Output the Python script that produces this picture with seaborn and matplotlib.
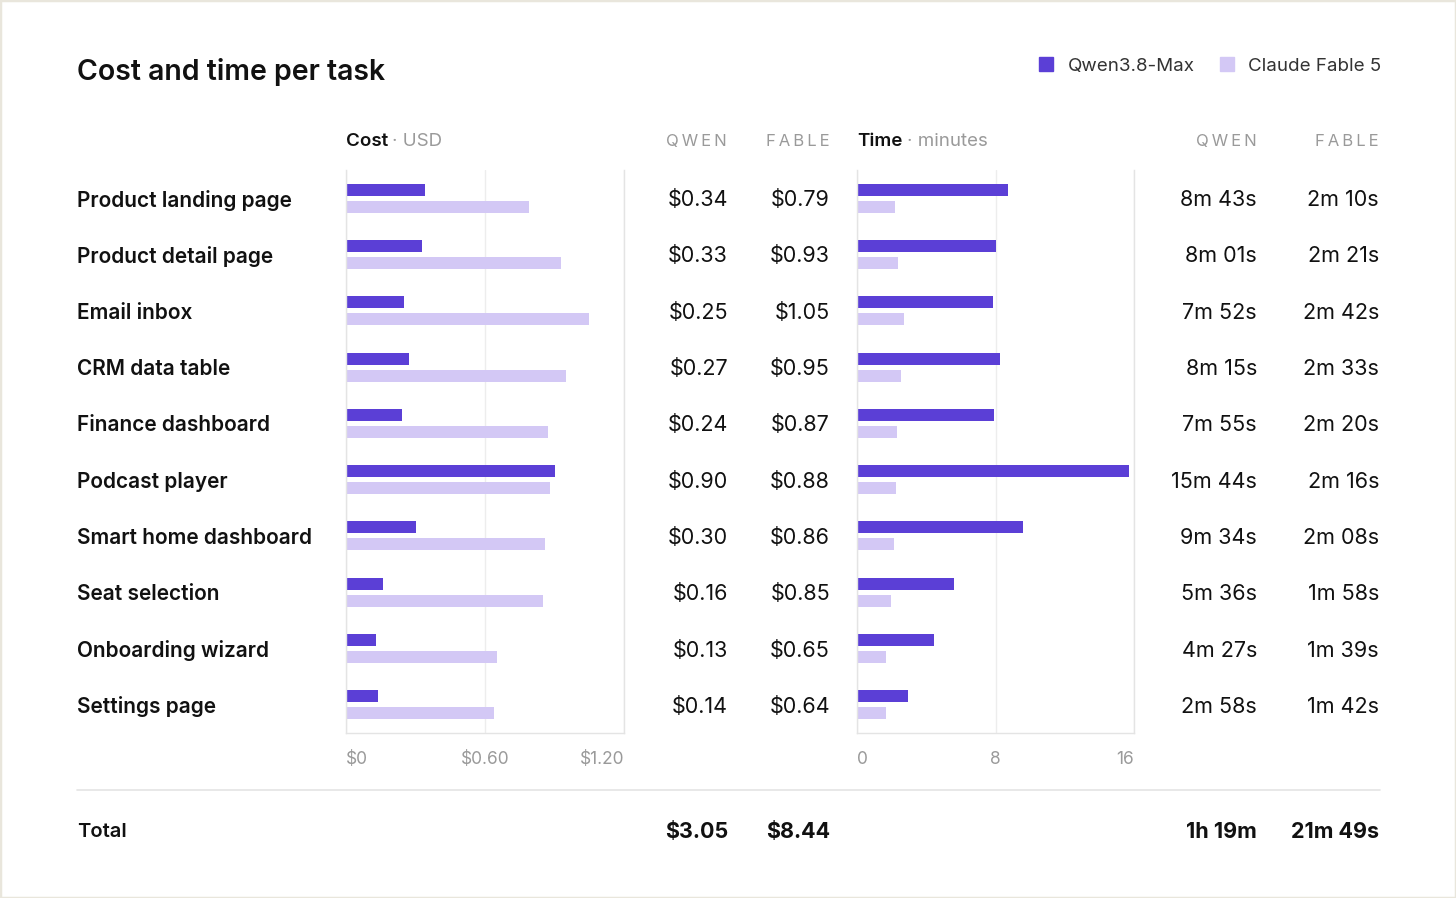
import pandas as pd
import seaborn as sns
import matplotlib.pyplot as plt
import matplotlib.transforms as mtransforms
from matplotlib.patches import Patch, Rectangle
from matplotlib.lines import Line2D

tasks = ["Product landing page", "Product detail page", "Email inbox", "CRM data table",
         "Finance dashboard", "Podcast player", "Smart home dashboard", "Seat selection",
         "Onboarding wizard", "Settings page"]
qwen_cost = [0.34, 0.33, 0.25, 0.27, 0.24, 0.90, 0.30, 0.16, 0.13, 0.14]
fable_cost = [0.79, 0.93, 1.05, 0.95, 0.87, 0.88, 0.86, 0.85, 0.65, 0.64]
qwen_time = ["8m 43s", "8m 01s", "7m 52s", "8m 15s", "7m 55s", "15m 44s", "9m 34s",
             "5m 36s", "4m 27s", "2m 58s"]
fable_time = ["2m 10s", "2m 21s", "2m 42s", "2m 33s", "2m 20s", "2m 16s", "2m 08s",
              "1m 58s", "1m 39s", "1m 42s"]
total_cost = ["$3.05", "$8.44"]
total_time = ["1h 19m", "21m 49s"]
models = ["Qwen3.8-Max", "Claude Fable 5"]
cost_ticks = [0, 0.6, 1.2]
cost_tick_labels = ["$0", "$0.60", "$1.20"]
time_ticks = [0, 8, 16]
time_tick_labels = ["0", "8", "16"]

QWEN = "#5b3fd6"
FABLE = "#d3c8f5"
INK = "#111111"
GREY = "#9a9a9a"
LINE = "#e4e4e4"


def to_minutes(s):
    m, sec = s.replace("s", "").split("m ")
    return int(m) + int(sec) / 60


df = pd.DataFrame({
    "task": tasks * 2,
    "model": [models[0]] * len(tasks) + [models[1]] * len(tasks),
    "cost": qwen_cost + fable_cost,
    "minutes": [to_minutes(t) for t in qwen_time + fable_time],
})

sns.set_theme(style="white")
plt.rcParams["font.family"] = ["Inter", "DejaVu Sans"]

W, H = 1456, 898
fig = plt.figure(figsize=(W / 100, H / 100), dpi=100)
fig.patch.set_facecolor("white")


def fx(x):
    return x / W


def fy(y):
    return 1 - y / H


fig.patches.append(Rectangle((0, 0), 1, 1, transform=fig.transFigure, fill=False,
                             edgecolor="#e9e6dc", linewidth=2.5))

ax_cost = fig.add_axes([fx(346), fy(733), (624 - 346) / W, (733 - 170) / H])
ax_time = fig.add_axes([fx(857), fy(733), (1134 - 857) / W, (733 - 170) / H])

for ax, col, ticks, labels in [(ax_cost, "cost", cost_ticks, cost_tick_labels),
                               (ax_time, "minutes", time_ticks, time_tick_labels)]:
    sns.barplot(data=df, y="task", x=col, hue="model", orient="h",
                palette=[QWEN, FABLE], saturation=1, width=0.604, gap=0.29,
                linewidth=0, legend=False, ax=ax)
    ax.set_xlim(ticks[0], ticks[-1])
    ax.set_ylim(len(tasks) - 0.5, -0.5)
    ax.set_xticks(ticks)
    ax.set_xticklabels(labels)
    ax.set_yticks([])
    ax.set_xlabel("")
    ax.set_ylabel("")
    ax.grid(axis="x", color="#ededed", linewidth=1)
    ax.set_axisbelow(True)
    ax.spines["top"].set_visible(False)
    for s in ["left", "right", "bottom"]:
        ax.spines[s].set_color(LINE)
        ax.spines[s].set_linewidth(1)
    ax.tick_params(axis="x", length=0, pad=13, labelsize=12.5, labelcolor=GREY)
    tl = ax.get_xticklabels()
    tl[0].set_ha("left")
    tl[-1].set_ha("right")

row_tr = mtransforms.blended_transform_factory(fig.transFigure, ax_cost.transData)

for i, task in enumerate(tasks):
    fig.text(fx(77), i, task, transform=row_tr, ha="left", va="center_baseline",
             fontsize=15, fontweight="semibold", color=INK)
    for x, label in [(728, f"${qwen_cost[i]:.2f}"), (830, f"${fable_cost[i]:.2f}"),
                     (1257, qwen_time[i]), (1379, fable_time[i])]:
        fig.text(fx(x), i, label, transform=row_tr, ha="right",
                 va="center_baseline", fontsize=15.5, color=INK)

# title and legend
fig.text(fx(77), fy(69), "Cost and time per task", ha="left", va="center_baseline",
         fontsize=20.5, fontweight="semibold", color=INK)
handles = [Patch(facecolor=QWEN, edgecolor=QWEN), Patch(facecolor=FABLE, edgecolor=FABLE)]
fig.legend(handles, models, loc="center right", bbox_to_anchor=(fx(1381), fy(66)),
           ncol=2, frameon=False, fontsize=13.5, handlelength=0.75, handleheight=0.75,
           handletextpad=0.75, columnspacing=1.35, borderaxespad=0, borderpad=0,
           labelcolor="#333333")

# section headers
sp = "\u2009"
for x0, bold, rest, xq, xf in [(346, "Cost", "\u00b7 USD", 727, 830),
                               (857, "Time", "\u00b7 minutes", 1257, 1379)]:
    t = fig.text(fx(x0), fy(140), bold, ha="left", va="center_baseline", fontsize=13.5,
                 fontweight="semibold", color=INK)
    fig.add_artist(plt.Annotation(rest, xy=(1, 0), xycoords=t, xytext=(3, 0),
                                  textcoords="offset points", ha="left", va="bottom",
                                  fontsize=13.5, color=GREY))
    fig.text(fx(xq), fy(140), sp.join("QWEN"), ha="right", va="center_baseline",
             fontsize=12, color=GREY)
    fig.text(fx(xf), fy(140), sp.join("FABLE"), ha="right", va="center_baseline",
             fontsize=12, color=GREY)

# separator and totals
fig.add_artist(Line2D([fx(77), fx(1380)], [fy(790), fy(790)], color=LINE,
                      linewidth=1.2, transform=fig.transFigure))
fig.text(fx(77), fy(830), "Total", ha="left", va="center_baseline", fontsize=14.5,
         fontweight="semibold", color=INK)
for x, label in zip([728, 830, 1257, 1379], total_cost + total_time):
    fig.text(fx(x), fy(830), label, ha="right", va="center_baseline", fontsize=15.5,
             fontweight="bold", color=INK)

fig.savefig("out.png", dpi=100, facecolor="white")
